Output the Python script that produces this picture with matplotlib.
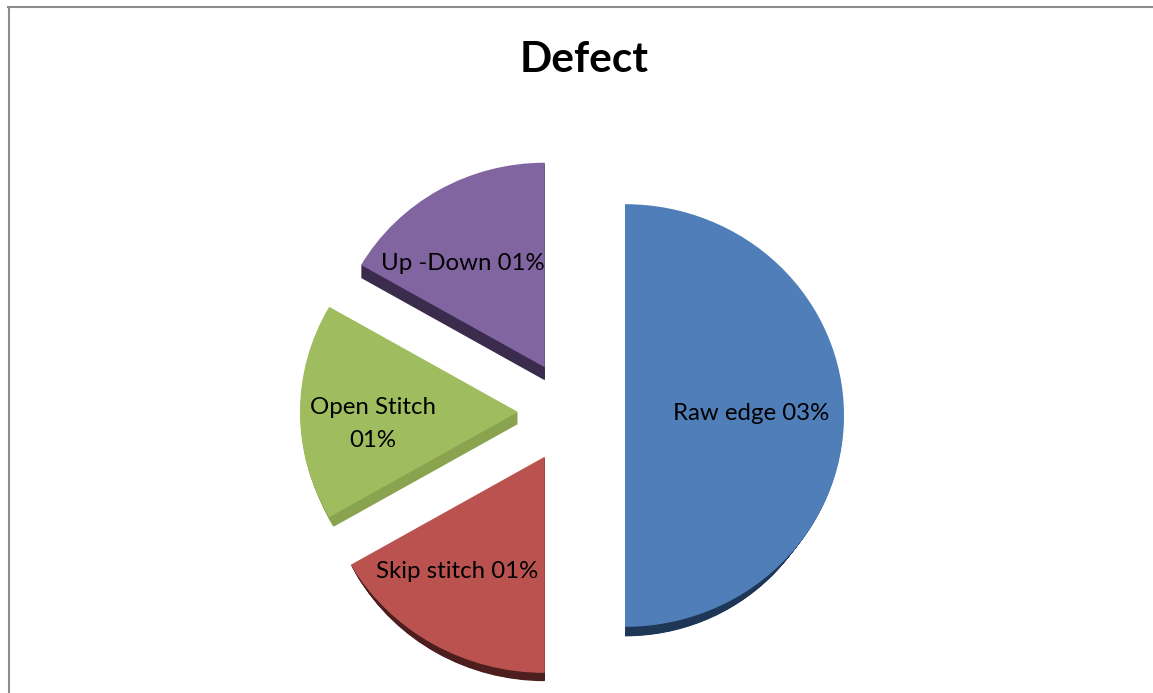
import matplotlib
matplotlib.use("Agg")
import matplotlib.pyplot as plt
from matplotlib.lines import Line2D
from matplotlib.patches import Wedge

plt.rcParams['font.family'] = ['Lato', 'DejaVu Sans']

# chart data
names = ["Raw edge", "Skip stitch", "Open Stitch", "Up -Down"]
values = [3, 1, 1, 1]
title = "Defect"

# colours for the top face and the side of each slice
colors = ["#4F7EB8", "#BA5350", "#9FBD5F", "#8165A0"]
side_colors = ["#1E3757", "#4C1F1E", "#89A34E", "#3B2B4D"]

W, H = 1153, 693
squash = 0.965   # tilted pie is a little flatter than it is wide

# slice layout, pie() takes explode in data units here
explode = [53.5] * 4
radii = [219, 224, 218, 212]
# side drop and how much the side shrinks, so the rim fades out along the arc
depths = [24, 16, 12, 13]
shrinks = [15, 8, 5, 0]
label_xy = [(751, 414), (457, 571), (373, 424), (463, 263)]


def px_to_y(py):
    return (H - py) / squash


fig = plt.figure(figsize=(W / 100, H / 100), dpi=100)
ax = fig.add_axes([0, 0, 1, 1])

wedges, _ = ax.pie(values, explode=explode, colors=colors, startangle=90,
                   counterclock=False, radius=218, center=(571.5, px_to_y(412)))
ax.set_aspect('auto')
ax.set_xlim(0, W)
ax.set_ylim(0, H / squash)
ax.axis('off')

# the big slice sits slightly lower than the others
cx, cy = wedges[0].center
wedges[0].set_center((cx, cy - 3.5 / squash))

for w, r, d, s, side in zip(wedges, radii, depths, shrinks, side_colors):
    w.set_radius(r)
    w.set_zorder(3)
    # stack copies downwards so the side looks solid
    x0, y0 = w.center
    for step in range(1, d + 1):
        ax.add_patch(Wedge((x0, y0 - step / squash), r - s * step / d, w.theta1, w.theta2,
                           facecolor=side, edgecolor='none', zorder=2))

# slice labels
for i, (name, v) in enumerate(zip(names, values)):
    sep = "\n" if name == "Open Stitch" else " "
    x, y = label_xy[i]
    fig.text(x / W, 1 - y / H, f"{name}{sep}{v:02d}%", ha='center', va='center',
             fontsize=17.3, color='black', linespacing=1.65, zorder=5)

fig.text(584 / W, 1 - 60 / H, title, ha='center', va='center',
         fontsize=30.5, fontweight='bold', color='black')

# chart frame, only left and top are in view
frame_color = "#8C8C8C"
fig.add_artist(Line2D([8.5 / W, 8.5 / W], [0, 1 - 7 / H], color=frame_color, lw=1.5))
fig.add_artist(Line2D([8 / W, 1], [1 - 7 / H, 1 - 7 / H], color=frame_color, lw=1.5))

fig.savefig("out.png", dpi=100, facecolor='white')
